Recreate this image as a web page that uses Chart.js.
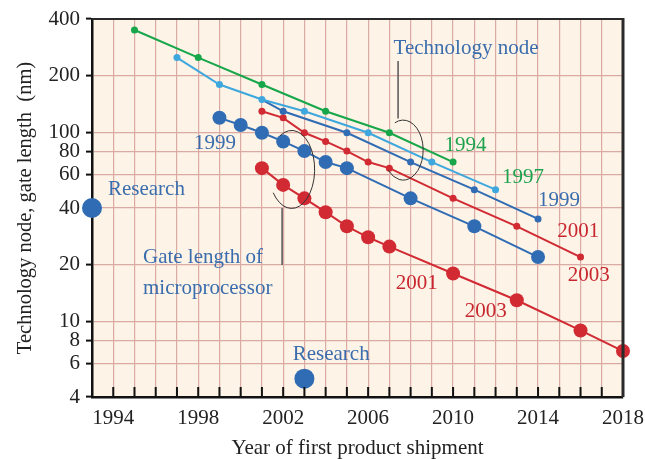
<!DOCTYPE html>
<html>
<head>
<meta charset="utf-8">
<script src="https://cdn.jsdelivr.net/npm/chart.js@4/dist/chart.umd.min.js"></script>
<style>
  html, body { margin: 0; padding: 0; background: #fff; }
</style>
</head>
<body>
<canvas id="chart" width="645" height="459"></canvas>
<script>
// =========================
// DATA
// =========================

// technology node lines (small markers)
const node1994Years = [1995, 1998, 2001, 2004, 2007, 2010];
const node1994 = [350, 250, 180, 130, 100, 70];

const node1997Years = [1997, 1999, 2001, 2003, 2006, 2009, 2012];
const node1997 = [250, 180, 150, 130, 100, 70, 50];

const node1999Years = [2001, 2002, 2005, 2008, 2011, 2014];
const node1999 = [150, 130, 100, 70, 50, 35];

const node2001Years = [2001, 2002, 2003, 2004, 2005, 2006, 2007, 2010, 2013, 2016];
const node2001 = [130, 120, 100, 90, 80, 70, 65, 45, 32, 22];

// gate length of microprocessor (big markers)
const gate1999Years = [1999, 2000, 2001, 2002, 2003, 2004, 2005, 2008, 2011, 2014];
const gate1999 = [120, 110, 100, 90, 80, 70, 65, 45, 32, 22];

const gate2001Years = [2001, 2002, 2003, 2004, 2005, 2006, 2007, 2010, 2013, 2016, 2018];
const gate2001 = [65, 53, 45, 38, 32, 28, 25, 18, 13, 9, 7];

// research points
const researchYears = [1993, 2003];
const research = [40, 5];

// axes
const yTicks = [4, 6, 8, 10, 20, 40, 60, 80, 100, 200, 400];
const xLabelYears = [1994, 1998, 2002, 2006, 2010, 2014, 2018];

// =========================
// STYLE
// =========================

const GREEN = "#17a64a";
const LIGHTBLUE = "#3ea7dd";
const DARKBLUE = "#2f6cb4";
const RED = "#d12a33";
const TXT_BLUE = "#3a6dad";
const TXT_GREEN = "#1fa24e";
const TXT_RED = "#c8272f";
const GRID = "#dcaaa4";
const FONT = "'Liberation Serif', 'DejaVu Serif', serif";

function pts(xs, ys){
  return xs.map((x, i) => ({x: x, y: ys[i]}));
}

function series(label, xs, ys, color, r, showLine){
  return {
    label: label,
    data: pts(xs, ys),
    borderColor: color,
    backgroundColor: color,
    pointBackgroundColor: color,
    pointBorderWidth: 0,
    pointRadius: r,
    borderWidth: 2,
    showLine: showLine !== false,
    tension: 0
  };
}

// annotation texts, placed in data units
const notes = [
  {text: "Technology node", x: 2007.2, y: 280, color: TXT_BLUE},
  {text: "1994", x: 2009.6, y: 86, color: TXT_GREEN},
  {text: "1997", x: 2012.3, y: 58, color: TXT_GREEN},
  {text: "1999", x: 2014.0, y: 44, color: TXT_BLUE},
  {text: "2001", x: 2014.9, y: 30, color: TXT_RED},
  {text: "2003", x: 2015.4, y: 17.6, color: TXT_RED},
  {text: "1999", x: 1997.8, y: 88, color: TXT_BLUE},
  {text: "Research", x: 1993.75, y: 50, color: TXT_BLUE},
  {text: "Gate length of", x: 1995.4, y: 22, color: TXT_BLUE},
  {text: "microprocessor", x: 1995.4, y: 15, color: TXT_BLUE},
  {text: "2001", x: 2007.3, y: 16, color: TXT_RED},
  {text: "2003", x: 2010.55, y: 11.3, color: TXT_RED},
  {text: "Research", x: 2002.45, y: 6.7, color: TXT_BLUE}
];

// brace ellipses + leader lines (data units for centres, px for radii)
const arcs = [
  {x: 2007.65, y: 81, rx: 20, ry: 30, start: -2.0, end: 2.4},
  {x: 2002.4, y: 64, rx: 23, ry: 39, start: -2.1, end: 2.5}
];
const leaders = [
  {x: 2007.41, y1: 240, y2: 119},
  {x: 2001.95, y1: 40, y2: 20}
];

// =========================
// PLUGINS
// =========================

const paperPlugin = {
  id: "paper",
  beforeDraw(chart){
    const a = chart.chartArea, ctx = chart.ctx;
    ctx.save();
    ctx.fillStyle = "#fdf3e6";
    ctx.fillRect(a.left, a.top, a.right - a.left, a.bottom - a.top);
    ctx.restore();
  },
  afterDraw(chart){
    const a = chart.chartArea, ctx = chart.ctx;
    const xs = chart.scales.x, ys = chart.scales.y;
    ctx.save();

    // frame top / right
    ctx.strokeStyle = "#2a2a2a";
    ctx.lineWidth = 2;
    ctx.beginPath();
    ctx.moveTo(a.left, a.top);
    ctx.lineTo(a.right, a.top);
    ctx.stroke();
    ctx.lineWidth = 3;
    ctx.beginPath();
    ctx.moveTo(a.right, a.top - 1);
    ctx.lineTo(a.right, a.bottom);
    ctx.stroke();

    // inner ticks on the year axis
    ctx.strokeStyle = "#111";
    ctx.lineWidth = 2;
    xs.ticks.forEach(t => {
      const px = xs.getPixelForValue(t.value);
      if(px <= a.left + 1 || px >= a.right - 1) return;
      ctx.beginPath();
      ctx.moveTo(px, a.bottom);
      ctx.lineTo(px, a.bottom - 10);
      ctx.stroke();
    });

    // braces
    ctx.strokeStyle = "#333";
    ctx.lineWidth = 1;
    arcs.forEach(e => {
      ctx.beginPath();
      ctx.ellipse(xs.getPixelForValue(e.x), ys.getPixelForValue(e.y), e.rx, e.ry, 0, e.start, e.end);
      ctx.stroke();
    });
    ctx.strokeStyle = "#555";
    ctx.lineWidth = 1.5;
    leaders.forEach(l => {
      const px = xs.getPixelForValue(l.x);
      ctx.beginPath();
      ctx.moveTo(px, ys.getPixelForValue(l.y1));
      ctx.lineTo(px, ys.getPixelForValue(l.y2));
      ctx.stroke();
    });

    // texts
    ctx.font = "21px " + FONT;
    ctx.textAlign = "left";
    ctx.textBaseline = "middle";
    notes.forEach(n => {
      ctx.fillStyle = n.color;
      ctx.fillText(n.text, xs.getPixelForValue(n.x), ys.getPixelForValue(n.y));
    });
    ctx.restore();
  }
};

// =========================
// CHART
// =========================

const chart = new Chart(document.getElementById("chart"), {
  type: "scatter",
  data: {
    datasets: [
      series("1994", node1994Years, node1994, GREEN, 3.5),
      series("1997", node1997Years, node1997, LIGHTBLUE, 3.5),
      Object.assign(series("1999", node1999Years, node1999, DARKBLUE, 3.5), {pointRadius: [0, 3.5, 3.5, 3.5, 3.5, 3.5]}),
      series("2001", node2001Years, node2001, RED, 3.5),
      series("Gate 1999", gate1999Years, gate1999, DARKBLUE, 7),
      series("Gate 2001", gate2001Years, gate2001, RED, 7),
      series("Research", researchYears, research, DARKBLUE, 10, false)
    ]
  },
  options: {
    responsive: false,
    animation: false,
    clip: false,
    layout: {padding: {top: 19, right: 22, left: 0, bottom: 0}},
    plugins: {legend: {display: false}, tooltip: {enabled: false}},
    scales: {
      x: {
        type: "linear",
        min: 1993,
        max: 2018,
        afterFit(scale){
          scale.height = 62;
          scale.paddingRight = 0; // last label may spill past the frame
        },
        afterBuildTicks(scale){
          const t = [];
          for(let y = 1993; y <= 2018; y++) t.push({value: y});
          scale.ticks = t;
        },
        ticks: {
          autoSkip: false,
          maxRotation: 0,
          padding: 9,
          color: "#222",
          font: {family: FONT, size: 21},
          callback: v => xLabelYears.includes(v) ? String(v) : ""
        },
        grid: {color: GRID, lineWidth: 1.2, drawTicks: false},
        border: {color: "#111", width: 2.5},
        title: {
          display: true,
          text: "Year of first product shipment",
          color: "#222",
          font: {family: FONT, size: 21, lineHeight: 1.0},
          padding: {top: 0, bottom: 0}
        }
      },
      y: {
        type: "logarithmic",
        min: 4,
        max: 400,
        afterFit(scale){ scale.width = 92; },
        afterBuildTicks(scale){
          scale.ticks = yTicks.map(v => ({value: v}));
        },
        ticks: {
          autoSkip: false,
          padding: 6,
          color: "#222",
          font: {family: FONT, size: 21},
          callback: v => String(v)
        },
        grid: {color: GRID, lineWidth: 1.2, tickColor: "#111", tickLength: 6, tickWidth: 2},
        border: {color: "#111", width: 2.5},
        title: {
          display: true,
          text: "Technology node, gate length  (nm)",
          color: "#222",
          font: {family: FONT, size: 20.5},
          padding: {top: 13, bottom: 0}
        }
      }
    }
  },
  plugins: [paperPlugin]
});
</script>
</body>
</html>
